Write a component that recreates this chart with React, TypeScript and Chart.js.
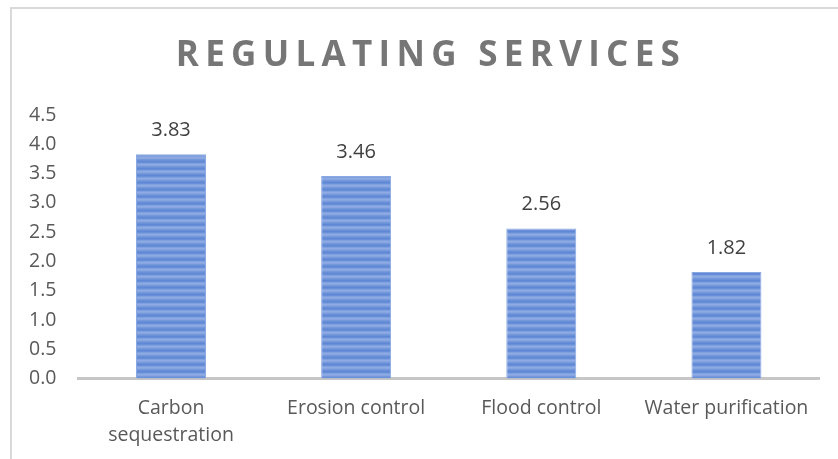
import React, { useEffect, useRef } from "react";
import { Chart, registerables } from "chart.js";

Chart.register(...registerables);

const categories: (string | string[])[] = [
  ["Carbon", "sequestration"],
  "Erosion control",
  "Flood control",
  "Water purification",
];
const values: number[] = [3.83, 3.46, 2.56, 1.82];
const titleText = "REGULATING SERVICES";
const yMin = 0;
const yMax = 4.5;
const yStep = 0.5;

function makePattern(ctx: CanvasRenderingContext2D): CanvasPattern | string {
  const c = document.createElement("canvas");
  const rows = ["#5f87d5", "#6890d8", "#7f9fdf", "#8eabe3", "#86a5e1", "#7598db", "#6a90d8"];
  c.width = 4;
  c.height = rows.length;
  const g = c.getContext("2d");
  if (!g) return "#6b90d8";
  rows.forEach((col, i) => {
    g.fillStyle = col;
    g.fillRect(0, i, 4, 1);
  });
  return ctx.createPattern(c, "repeat") || "#6b90d8";
}

export default function App() {
  const ref = useRef<HTMLCanvasElement | null>(null);

  useEffect(() => {
    const canvas = ref.current;
    if (!canvas) return;
    const ctx = canvas.getContext("2d");
    if (!ctx) return;
    const pattern = makePattern(ctx);

    const titleSpacing = {
      id: "titleSpacing",
      beforeDraw(chart: any) {
        const tb = chart.titleBlock;
        if (tb && !tb.__wrapped) {
          const orig = tb.draw.bind(tb);
          tb.draw = (...args: any[]) => {
            const c = chart.ctx;
            c.save();
            (c as any).letterSpacing = "6.3px";
            c.translate(18, 0);
            orig(...args);
            c.restore();
          };
          tb.__wrapped = true;
        }
      },
    };

    const dataLabels = {
      id: "dataLabels",
      afterDatasetsDraw(chart: any) {
        const c = chart.ctx;
        const meta = chart.getDatasetMeta(0);
        c.save();
        c.font = "20px 'Open Sans'";
        c.fillStyle = "#404040";
        c.textAlign = "center";
        c.textBaseline = "middle";
        meta.data.forEach((el: any, i: number) => {
          c.fillText(values[i].toFixed(2), el.x, el.y - 24);
        });
        c.restore();
      },
    };

    const chart = new Chart(ctx, {
      type: "bar",
      data: {
        labels: categories,
        datasets: [
          {
            data: values,
            backgroundColor: pattern as any,
            borderColor: "#8aa9e2",
            borderWidth: 1,
            categoryPercentage: 1,
            barPercentage: 0.378,
          },
        ],
      },
      options: {
        responsive: false,
        animation: false,
        layout: { padding: { left: 7, right: 19, top: 0, bottom: 0 } },
        plugins: {
          legend: { display: false },
          tooltip: { enabled: false },
          title: {
            display: true,
            text: titleText,
            color: "#767676",
            font: { family: "'Open Sans'", size: 35, weight: "bold", lineHeight: 1.2 },
            padding: { top: 35, bottom: 38 },
          },
        },
        scales: {
          x: {
            grid: { display: false, drawTicks: false },
            border: { display: true, color: "#c6c6c6", width: 3 },
            ticks: {
              color: "#595959",
              font: { family: "'Open Sans'", size: 19.5, lineHeight: 1.385 },
              padding: 16,
              maxRotation: 0,
              autoSkip: false,
            },
            afterFit: (scale: any) => {
              scale.height = 80.5;
              scale.paddingLeft = 0;
              scale.paddingRight = 0;
            },
          },
          y: {
            min: yMin,
            max: yMax,
            grid: { display: false, drawTicks: false },
            border: { display: false },
            ticks: {
              stepSize: yStep,
              color: "#595959",
              font: { family: "'Open Sans'", size: 19.5 },
              padding: 22,
              callback: (v: any) => Number(v).toFixed(1),
            },
          },
        },
      },
      plugins: [titleSpacing, dataLabels],
    });
    chart.draw();

    return () => chart.destroy();
  }, []);

  return (
    <div style={{ position: "fixed", left: 0, top: 0, width: 838, height: 459, background: "#fff", overflow: "hidden" }}>
      <div
        style={{
          position: "absolute",
          left: 10,
          top: 7,
          right: -10,
          bottom: -10,
          borderTop: "2px solid #d9d9d9",
          borderLeft: "2px solid #d9d9d9",
        }}
      />
      <canvas ref={ref} width={838} height={459} style={{ position: "absolute", left: 0, top: 0 }} />
    </div>
  );
}
